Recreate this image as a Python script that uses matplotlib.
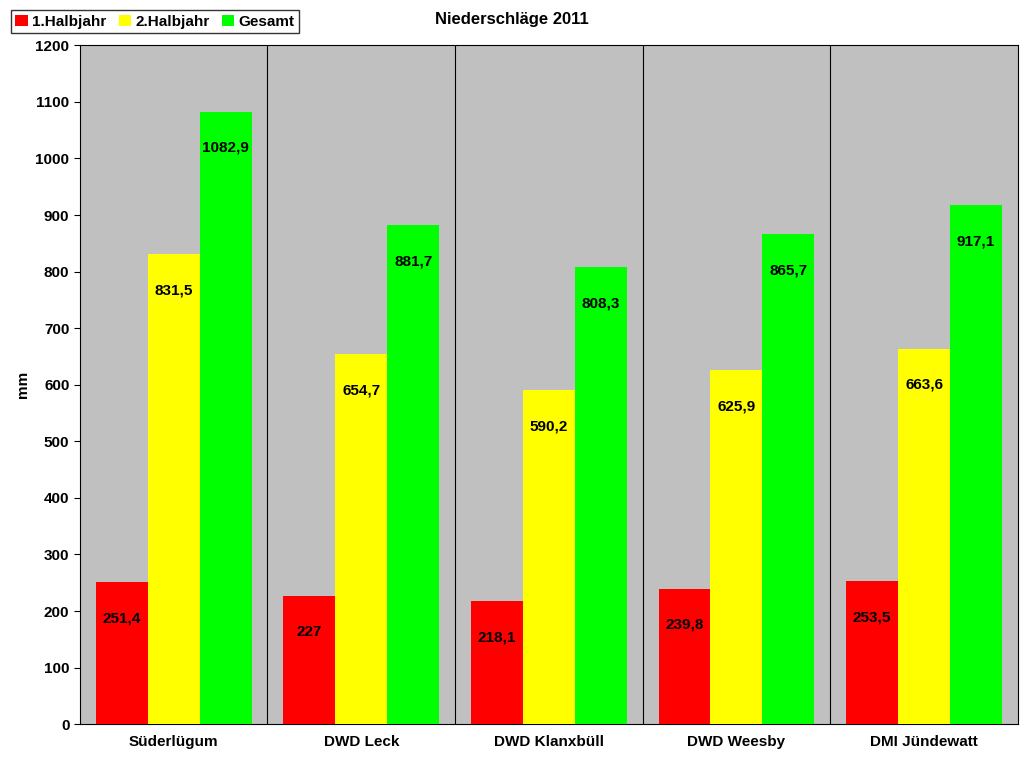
import matplotlib
matplotlib.use("Agg")
import matplotlib.pyplot as plt
import numpy as np

plt.rcParams['font.family'] = ['Liberation Sans', 'DejaVu Sans']
plt.rcParams['font.weight'] = 'bold'

categories = ["Süderlügum", "DWD Leck", "DWD Klanxbüll", "DWD Weesby", "DMI Jündewatt"]
h1 = [251.4, 227, 218.1, 239.8, 253.5]
h2 = [831.5, 654.7, 590.2, 625.9, 663.6]
total = [1082.9, 881.7, 808.3, 865.7, 917.1]
labels_h1 = ["251,4", "227", "218,1", "239,8", "253,5"]
labels_h2 = ["831,5", "654,7", "590,2", "625,9", "663,6"]
labels_total = ["1082,9", "881,7", "808,3", "865,7", "917,1"]

fig = plt.figure(figsize=(10.24, 7.68), dpi=100)
ax = fig.add_axes([0.078, 0.057, 0.916, 0.884])
ax.set_facecolor('#C0C0C0')
x = np.arange(len(categories))
w = 0.277
series = [(h1, labels_h1, '#FF0000', '1.Halbjahr'),
          (h2, labels_h2, '#FFFF00', '2.Halbjahr'),
          (total, labels_total, '#00FF00', 'Gesamt')]
for i, (vals, labs, col, name) in enumerate(series):
    pos = x + (i - 1) * w
    ax.bar(pos, vals, w, color=col, label=name, zorder=3)
    for p, v, l in zip(pos, vals, labs):
        ax.text(p, v - 64, l, ha='center', va='center', fontsize=11, fontweight='bold', zorder=4)

ax.set_xlim(-0.5, len(categories) - 0.5)
ax.set_ylim(0, 1200)
ax.set_yticks(range(0, 1201, 100))
ax.set_xticks(x)
ax.set_xticklabels(categories, fontsize=11, fontweight='bold')
ax.tick_params(axis='y', labelsize=11, direction='out', length=4)
ax.tick_params(axis='x', length=0, pad=8)
for b in np.arange(0.5, len(categories) - 0.5, 1):
    ax.axvline(b, color='black', lw=0.8, zorder=2)
for s in ax.spines.values():
    s.set_color('black')
ax.set_ylabel('mm', fontsize=11, fontweight='bold')
fig.text(0.5, 0.974, 'Niederschläge 2011', ha='center', va='center', fontsize=12, fontweight='bold')
fig.legend(loc='upper left', bbox_to_anchor=(0.003, 0.997), ncol=3, frameon=True, fancybox=False,
           edgecolor='black', fontsize=11, handlelength=0.8, handletextpad=0.3, columnspacing=0.8,
           borderpad=0.3)
fig.savefig('out.png', dpi=100)
